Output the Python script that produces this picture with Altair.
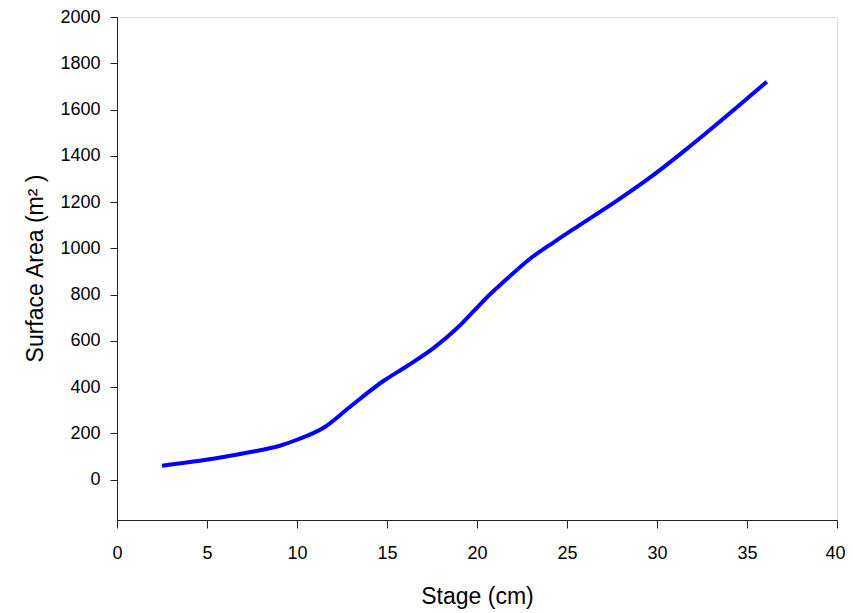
import altair as alt
import pandas as pd

stage_cm = [2.5, 5.5, 7.5, 9.0, 10.0, 11.5, 13.0, 14.8, 16.1, 17.6, 18.9, 19.8, 20.7, 21.5, 23.0, 24.3, 25.7, 27.8, 29.6, 31.5, 33.3, 36.1]
surface_area_m2 = [60, 92, 120, 145, 172, 225, 318, 426, 490, 569, 655, 727, 799, 856, 958, 1028, 1100, 1207, 1305, 1420, 1535, 1720]

x_ticks = [0, 5, 10, 15, 20, 25, 30, 35, 40]
y_ticks = [0, 200, 400, 600, 800, 1000, 1200, 1400, 1600, 1800, 2000]

df = pd.DataFrame({"stage": stage_cm, "area": surface_area_m2})

FONT = "Liberation Sans"
AXIS_COLOR = "#222222"

chart = (
    alt.Chart(df)
    .mark_line(color="#0000FF", strokeWidth=4, interpolate="monotone")
    .encode(
        x=alt.X(
            "stage:Q",
            scale=alt.Scale(domain=[0, 40], nice=False, zero=False),
            axis=alt.Axis(
                values=x_ticks,
                format="d",
                title="Stage (cm)",
                grid=False,
                tickSize=8,
                labelPadding=16,
                labelFontSize=18,
                labelFont=FONT,
                labelColor="#000000",
                labelAlign={"condition": {"test": "datum.value == 40", "value": "right"}, "value": "center"},
                labelOffset={"condition": {"test": "datum.value == 40", "value": 8}, "value": 0},
                titleFont=FONT,
                titleFontSize=23,
                titleFontWeight="normal",
                titleColor="#000000",
                titleY=76,
                titleBaseline="middle",
                domainColor=AXIS_COLOR,
                tickColor=AXIS_COLOR,
                labelFlush=False,
            ),
        ),
        y=alt.Y(
            "area:Q",
            scale=alt.Scale(domain=[-175, 2000], nice=False, zero=False),
            axis=alt.Axis(
                values=y_ticks,
                format="d",
                title="Surface Area (m² )",
                grid=False,
                tickSize=7,
                labelPadding=10,
                labelFontSize=18,
                labelFont=FONT,
                labelColor="#000000",
                titleFont=FONT,
                titleFontSize=23,
                titleFontWeight="normal",
                titleColor="#000000",
                titleX=-82,
                titleY=251,
                titleAngle=-90,
                titleAlign="center",
                titleBaseline="middle",
                domainColor=AXIS_COLOR,
                tickColor=AXIS_COLOR,
                labelFlush=False,
            ),
        ),
    )
    .properties(
        width=720,
        height=503,
        autosize=alt.AutoSizeParams(type="none"),
        padding={"left": 109, "top": 9, "right": 8, "bottom": 93},
    )
    .configure_view(stroke=AXIS_COLOR, strokeWidth=1)
    .configure(background="white")
)

chart.save("out.html", embed_options={"renderer": "svg", "actions": False})
